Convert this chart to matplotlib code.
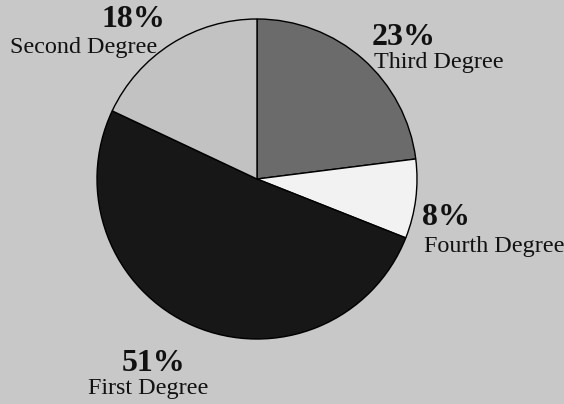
import matplotlib.pyplot as plt

# datos del gráfico (sentido horario desde las 12)
categorias = ['Third Degree', 'Fourth Degree', 'First Degree', 'Second Degree']
porcentajes = [23, 8, 51, 18]
colores = ['#6b6b6b', '#f2f2f2', '#171717', '#c2c2c2']

# posición de las etiquetas en píxeles (x izquierda, línea base del %, línea base del nombre)
pos_etiquetas = {
    'Third Degree': (372, 45, 374, 68),
    'Fourth Degree': (422, 225, 424, 252),
    'First Degree': (122, 371, 88, 394),
    'Second Degree': (102, 27, 10, 53),
}

W, H = 564, 404
fondo = '#c8c8c8'

fig = plt.figure(figsize=(W / 100, H / 100), dpi=100)
fig.patch.set_facecolor(fondo)

# el círculo: centro (257, 179), radio 160 px
cx, cy, r = 257, 179, 160
ax = fig.add_axes([(cx - r) / W, (H - cy - r) / H, 2 * r / W, 2 * r / H])
ax.set_facecolor(fondo)
ax.pie(porcentajes, colors=colores, startangle=90, counterclock=False,
       wedgeprops={'edgecolor': 'black', 'linewidth': 1.0})
ax.set_xlim(-1, 1)
ax.set_ylim(-1, 1)
ax.axis('off')

for nombre, valor in zip(categorias, porcentajes):
    xp, yp, xn, yn = pos_etiquetas[nombre]
    fig.text(xp / W, 1 - yp / H, f'{valor}%', fontsize=23, fontweight='bold',
             family='Liberation Serif', color='#111111', ha='left', va='baseline')
    fig.text(xn / W, 1 - yn / H, nombre, fontsize=17.4,
             family='Liberation Serif', color='#111111', ha='left', va='baseline')

fig.savefig('out.png', dpi=100, facecolor=fondo)
